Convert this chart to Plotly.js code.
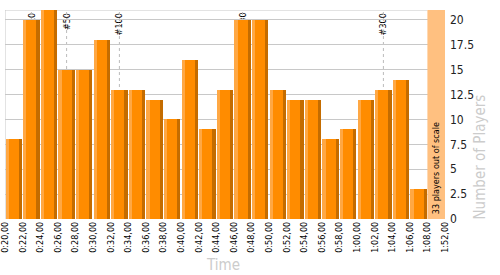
<!DOCTYPE html>
<html>
<head>
<meta charset="utf-8">
<script src="https://cdn.plot.ly/plotly-3.0.1.min.js"></script>
<style>
  html, body { margin: 0; padding: 0; background: #fff; }
  #chart { width: 500px; height: 275px; }
</style>
</head>
<body>
<div id="chart"></div>
<script>
// ---- data ----
const tickLabels = ["0:20,00","0:22,00","0:24,00","0:26,00","0:28,00","0:30,00","0:32,00","0:34,00",
  "0:36,00","0:38,00","0:40,00","0:42,00","0:44,00","0:46,00","0:48,00","0:50,00","0:52,00",
  "0:54,00","0:56,00","0:58,00","1:00,00","1:02,00","1:04,00","1:06,00","1:08,00","1:52,00"];
const players = [8, 20, 21, 15, 15, 18, 13, 13, 12, 10, 16, 9, 13, 20, 20, 13, 12, 12, 8, 9, 12, 13, 14, 3];
const markerBins = [1, 3, 6, 13, 21];
const markerLabels = ["#10", "#50", "#100", "#200", "#300"];
const outOfScaleText = "33 players out of scale";
const yMax = 21;

const FONT = "DejaVu Sans Condensed, DejaVu Sans, sans-serif";
const binCenters = players.map((v, i) => i + 0.5);
const tickPos = tickLabels.map((t, i) => i);
const nBins = players.length;

const BW = 0.94, OFF = -0.47;
const traces = [
  { type: 'bar', x: binCenters, y: players, width: BW, offset: OFF,
    marker: { color: '#C46C00', line: { width: 0 } }, hoverinfo: 'skip' },
  { type: 'bar', x: binCenters, y: players, width: BW - 0.19, offset: OFF,
    marker: { color: '#FF8C00', line: { width: 0 } }, hoverinfo: 'skip' },
  { type: 'bar', x: binCenters, y: players, width: 0.18, offset: OFF,
    marker: { color: '#FFA844', line: { width: 0 } }, hoverinfo: 'skip' }
];

const shapes = [
  // top and left frame lines
  { type: 'line', xref: 'x', yref: 'y', x0: 0, x1: nBins, y0: yMax, y1: yMax,
    line: { color: '#c8c8c8', width: 1 }, layer: 'below' },
  { type: 'line', xref: 'x', yref: 'y', x0: 0, x1: 0, y0: 0, y1: yMax,
    line: { color: '#c8c8c8', width: 1 }, layer: 'below' },
  // out of scale band
  { type: 'rect', xref: 'x', yref: 'y', x0: nBins, x1: nBins + 1, y0: 0, y1: yMax,
    fillcolor: '#FFC080', line: { width: 0 }, layer: 'above' }
];
markerBins.forEach(b => {
  shapes.push({ type: 'line', xref: 'x', yref: 'y', x0: b + 0.5, x1: b + 0.5, y0: 0, y1: yMax,
    line: { color: '#bbbbbb', width: 1, dash: '3px,3px' }, layer: 'below' });
});

const annotations = [];
markerBins.forEach((b, i) => {
  annotations.push({ xref: 'x', yref: 'paper', x: b + 0.5, y: 1, yshift: -2,
    xanchor: 'center', yanchor: 'top', textangle: -90, showarrow: false,
    text: markerLabels[i], bgcolor: '#ffffff', borderpad: 0,
    font: { family: FONT, size: 9, color: '#000' } });
});
const nMarkerAnn = annotations.length;
annotations.push({ xref: 'x', yref: 'y', x: nBins + 0.5, y: 0, yshift: 3,
  xanchor: 'center', yanchor: 'bottom', textangle: -90, showarrow: false,
  text: outOfScaleText, font: { family: FONT, size: 9, color: '#000' } });
annotations.push({ xref: 'paper', yref: 'y', x: 1.0795, y: 0, yshift: -2,
  xanchor: 'center', yanchor: 'bottom', textangle: -90, showarrow: false,
  text: 'Number of Players', font: { family: FONT, size: 15, color: '#cccccc' } });
annotations.push({ xref: 'paper', yref: 'paper', x: 0.495, y: -0.22,
  xanchor: 'center', yanchor: 'middle', showarrow: false,
  text: 'Time', font: { family: FONT, size: 15, color: '#cccccc' } });

const layout = {
  width: 500, height: 275,
  margin: { l: 5, r: 55, t: 10, b: 56, pad: 0 },
  paper_bgcolor: '#ffffff', plot_bgcolor: 'rgba(0,0,0,0)',
  barmode: 'overlay', bargap: 0,
  showlegend: false,
  xaxis: {
    range: [0, nBins + 1], tickmode: 'array', tickvals: tickPos, ticktext: tickLabels,
    tickangle: -90, showgrid: false, zeroline: false, showline: false, ticks: '',
    ticklabeloverflow: 'allow',
    tickfont: { family: FONT, size: 9, color: '#000' }, fixedrange: true
  },
  yaxis: {
    range: [0, yMax], side: 'right', tick0: 0, dtick: 2.5, showgrid: true,
    gridcolor: '#c8c8c8', gridwidth: 1, zeroline: false, showline: false, ticks: '',
    ticklabelstandoff: 4,
    tickfont: { family: FONT, size: 12, color: '#222' }, fixedrange: true
  },
  shapes: shapes,
  annotations: annotations
};

Plotly.newPlot('chart', traces, layout, { displayModeBar: false, staticPlot: true }).then(gd => {
  // put the cumulative player markers underneath the bars (as in the original)
  const below = gd.querySelector('.layer-below');
  if (!below) return;
  gd.querySelectorAll('.infolayer .annotation').forEach(el => {
    const idx = parseInt(el.getAttribute('data-index'), 10);
    if (idx < nMarkerAnn) below.appendChild(el);
  });
});
</script>
</body>
</html>
